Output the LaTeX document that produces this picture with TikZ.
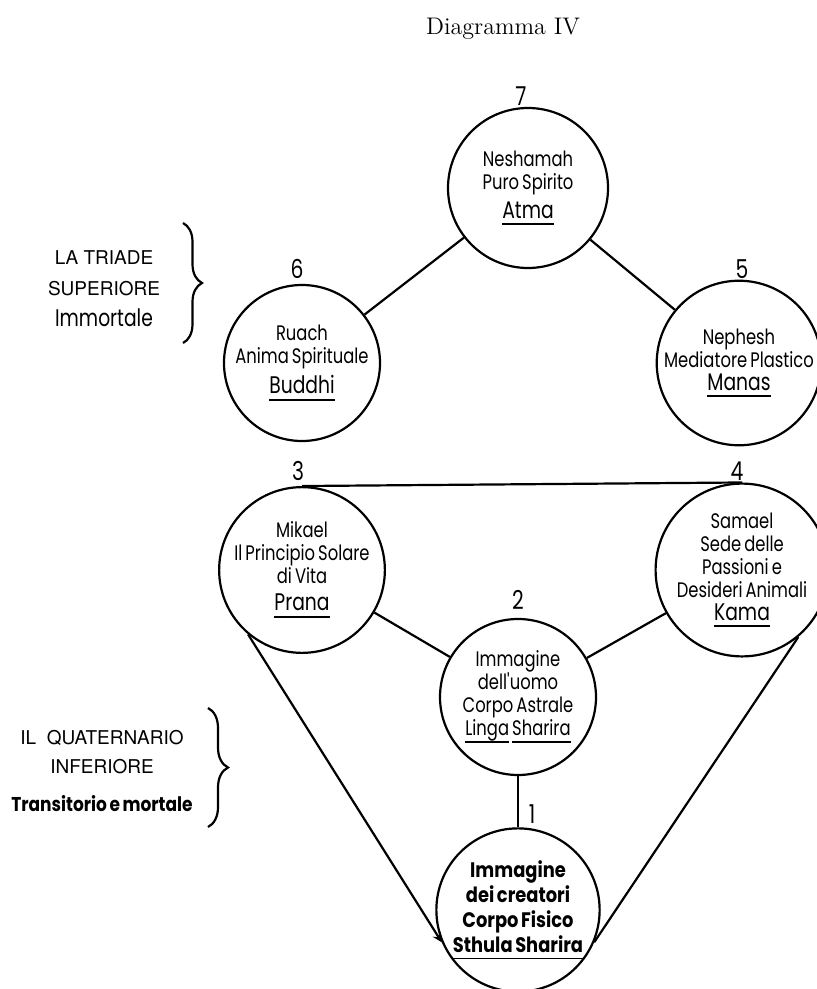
\documentclass[tikz,border=0pt]{standalone}
\usepackage{fontspec}
\usepackage{tikz}
\usetikzlibrary{arrows,positioning,decorations.pathreplacing}
\newfontfamily\scritta[FakeStretch=0.78,WordSpace=0.7]{Poppins}
\newfontfamily\scrittaforte[FakeStretch=0.85,WordSpace=0.7]{Poppins}
\newfontfamily\titoli{TeX Gyre Heros}
\newcommand{\sottolinea}[1]{\setbox0=\hbox{#1}\rlap{\rule[-3.5pt]{\wd0}{0.9pt}}\box0\relax}
\newcommand{\nome}[1]{{\fontsize{12}{13}\selectfont\sottolinea{#1}}}
\tikzstyle{cerchio} = [circle, draw, line width=1.1pt, minimum size=78pt, inner sep=0pt, align=center, font=\scritta\fontsize{10.5}{11.5}\selectfont]
\tikzstyle{numero} = [font=\scritta\fontsize{13}{14}\selectfont]
\tikzstyle{gruppo} = [align=center, font=\titoli\fontsize{9.5}{15.5}\selectfont]
\tikzstyle{linea} = [line width=1.1pt]

\begin{document}
\begin{tikzpicture}[x=0.5pt, y=-0.5pt, >=stealth]
	\useasboundingbox (0,0) rectangle (816,989);
	\node (titolo) at (503,29) {\fontsize{12}{14}\selectfont Diagramma IV};
	% la triade superiore
	\node[cerchio, minimum size=80pt] (c7) at (528,188) {Neshamah\\ Puro Spirito\\[3pt] \nome{Atma}};
	\node[cerchio] (c6) at (302,363) {Ruach\\ Anima Spirituale\\[2pt] \nome{Buddhi}};
	\node[cerchio] (c5) [right of=c6, node distance=218.5pt] {Nephesh\\ Mediatore Plastico\\ \nome{Manas}};
	\node[numero] (n7) [above of=c7, node distance=46pt, xshift=-3.5pt] {7};
	\node[numero] (n6) [above of=c6, node distance=47pt, xshift=-2.5pt] {6};
	\node[numero] (n5) [above of=c5, node distance=47pt, xshift=1.5pt] {5};
	\draw[linea] (c7) -- (c6);
	\draw[linea] (c7) -- (c5);
	% il quaternario inferiore
	\node[cerchio] (c3) [below of=c6, node distance=103.5pt] {Mikael\\ Il Principio Solare\\ di Vita\\[2pt] \nome{Prana}};
	\node[cerchio] (c4) [right of=c3, node distance=220pt] {Samael\\ Sede delle\\ Passioni e\\ Desideri Animali\\ \nome{Kama}};
	\node[cerchio] (c2) at (518,697) {Immagine\\ dell'uomo\\ Corpo Astrale\\ \sottolinea{Linga} \sottolinea{Sharira}};
	\node[cerchio, font=\scrittaforte\bfseries\fontsize{10.5}{12.5}\selectfont] (c1) [below of=c2, node distance=106.5pt] {Immagine\\ dei creatori\\ Corpo Fisico\\ \sottolinea{Sthula Sharira}};
	\node[numero] (n3) [above of=c3, node distance=49.5pt, xshift=-2pt] {3};
	\node[numero] (n4) [above of=c4, node distance=49.5pt, xshift=-2.5pt] {4};
	\node[numero] (n2) [above of=c2, node distance=48.5pt] {2};
	\node[numero] (n1) [above of=c1, node distance=48pt, xshift=7pt] {1};
	\draw[linea] (c3.north) -- (c4.north);
	\draw[linea] (c3) -- (c2);
	\draw[linea] (c4) -- (c2);
	\draw[linea] (c2) -- (c1);
	\draw[linea, ->] (c3.230) -- (c1.203);
	\draw[linea] (c4.310) -- (c1.337);
	% gruppi e graffe
	\node[gruppo] (triade) at (104,289) {LA TRIADE\\ SUPERIORE\\ {\scritta\fontsize{12}{13}\selectfont Immortale}};
	\node[gruppo, font=\titoli\fontsize{9.5}{14.5}\selectfont] (quaternario) at (102,771) {IL\ \ QUATERNARIO\\ INFERIORE\\[4.5pt] {\scrittaforte\bfseries\fontsize{10}{12}\selectfont Transitorio e mortale}};
	\draw[linea, decorate, decoration={brace, amplitude=9.5pt}] (183,223) -- (183,343);
	\draw[linea, decorate, decoration={brace, amplitude=10pt}] (208,708) -- (208,827);
\end{tikzpicture}
\end{document}
